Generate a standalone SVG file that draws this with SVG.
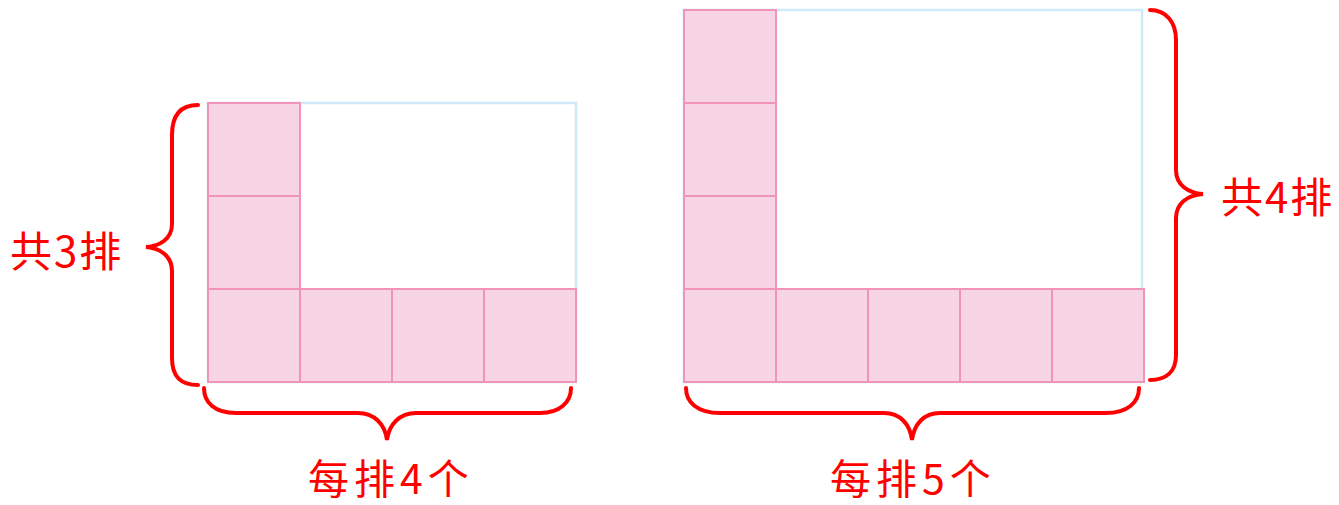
<svg xmlns="http://www.w3.org/2000/svg" width="1339" height="505" viewBox="0 0 1339 505">
<style>
.outline{fill:none;stroke:#cfe9fa;stroke-width:2.5}
.sq{fill:#f8d5e4;stroke:#f294b8;stroke-width:2}
.brace{fill:none;stroke:#ff0000;stroke-width:4;stroke-linecap:round}
.lbl{font-family:"Noto Sans CJK SC","Noto Sans",sans-serif;font-size:42px;fill:#ff0000}
.bl{font-size:41px}
</style>
<rect width="1339" height="505" fill="#ffffff"/>
<g id="left-figure">
<rect class="outline" x="208" y="103" width="368" height="279"/>
<rect class="sq" x="208" y="103" width="92" height="93"/>
<rect class="sq" x="208" y="196" width="92" height="93"/>
<rect class="sq" x="208" y="289" width="92" height="93"/>
<rect class="sq" x="300" y="289" width="92" height="93"/>
<rect class="sq" x="392" y="289" width="92" height="93"/>
<rect class="sq" x="484" y="289" width="92" height="93"/>
</g>
<g id="right-figure">
<rect class="outline" x="684" y="10" width="458" height="372"/>
<rect class="sq" x="684" y="10" width="92" height="93"/>
<rect class="sq" x="684" y="103" width="92" height="93"/>
<rect class="sq" x="684" y="196" width="92" height="93"/>
<rect class="sq" x="684" y="289" width="92" height="93"/>
<rect class="sq" x="776" y="289" width="92" height="93"/>
<rect class="sq" x="868" y="289" width="92" height="93"/>
<rect class="sq" x="960" y="289" width="92" height="93"/>
<rect class="sq" x="1052" y="289" width="92" height="93"/>
</g>
<g id="connectors">
<path class="brace" d="M198,105 C181,105 172,115 172,135 L172,224 C172,239 160,246 146,247 C160,248 172,256 172,271 L172,358 C172,377 181,385 198,385"/>
<path class="brace" d="M204,388 C204,402 214,413 236,413 L358,413 C374,413 385,424 387,440 C389,424 400,413 416,413 L540,413 C560,413 571,402 571,388"/>
<path class="brace" d="M1150,10 C1166,10 1176,22 1176,40 L1176,170 C1176,185 1188,193 1203,194 C1188,195 1176,203 1176,218 L1176,355 C1176,372 1166,380 1150,380"/>
<path class="brace" d="M686,388 C686,402 697,413 720,413 L884,413 C900,413 910,424 912,440 C914,424 924,413 940,413 L1106,413 C1128,413 1139,402 1139,388"/>
</g>
<g id="label-left"><text class="lbl" x="10" y="267" letter-spacing="2">共3排</text></g>
<g id="label-bottom-left"><text class="lbl bl" x="308" y="494" letter-spacing="5">每排4个</text></g>
<g id="label-right"><text class="lbl" x="1221" y="213" letter-spacing="2">共4排</text></g>
<g id="label-bottom-right"><text class="lbl bl" x="830" y="494" letter-spacing="5">每排5个</text></g>
</svg>
